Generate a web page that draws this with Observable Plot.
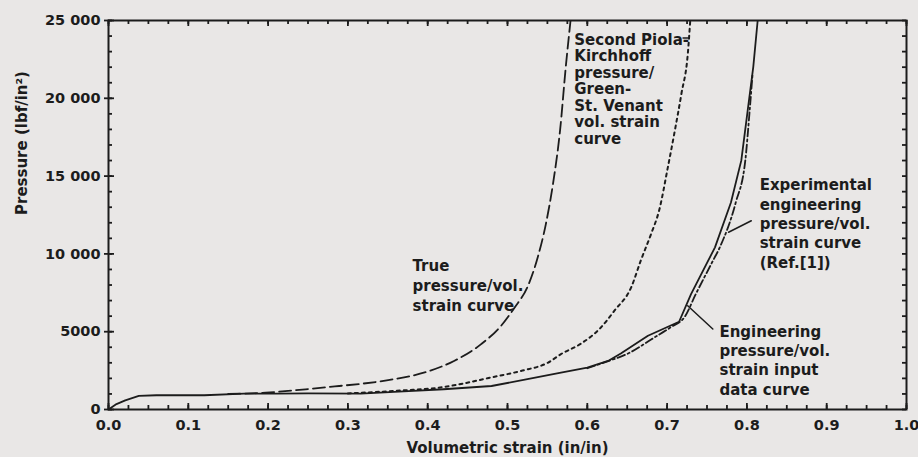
<!DOCTYPE html>
<html>
<head>
<meta charset="utf-8">
<script src="https://cdn.jsdelivr.net/npm/d3@7"></script>
<script src="https://cdn.jsdelivr.net/npm/@observablehq/plot@0.6"></script>
<style>
  html, body { margin: 0; padding: 0; background: #e9e7e6; }
  #chart { width: 918px; height: 457px; }
</style>
</head>
<body>
<div id="chart"></div>
<script>
// ---- data ----
const engStrain   = [0, 0.01, 0.021, 0.038, 0.06, 0.12, 0.17, 0.21, 0.25, 0.316, 0.37, 0.42, 0.48, 0.525, 0.567, 0.6, 0.626, 0.642, 0.676, 0.715, 0.73, 0.76, 0.78, 0.793, 0.801, 0.808, 0.8135];
const engPressure = [0, 350, 590, 870, 915, 915, 1020, 1020, 1030, 1020, 1160, 1300, 1510, 1950, 2370, 2690, 3120, 3600, 4740, 5640, 7420, 10420, 13300, 16010, 19230, 22020, 25000];

const expStrain   = [0.6, 0.62, 0.655, 0.68, 0.705, 0.722, 0.736, 0.756, 0.766, 0.786, 0.798, 0.8035, 0.807];
const expPressure = [2650, 3000, 3700, 4500, 5300, 5950, 7420, 9420, 10420, 13300, 16010, 19230, 21500];

const trueStrain   = [0.15, 0.197, 0.247, 0.289, 0.318, 0.358, 0.4, 0.433, 0.467, 0.492, 0.509, 0.525, 0.538, 0.548, 0.557, 0.566, 0.573, 0.579];
const truePressure = [1000, 1080, 1300, 1510, 1660, 1950, 2440, 3120, 4200, 5380, 6560, 7870, 9800, 11900, 14500, 18000, 22000, 25000];

const pkStrain   = [0.3, 0.37, 0.41, 0.44, 0.475, 0.517, 0.551, 0.567, 0.592, 0.617, 0.634, 0.655, 0.667, 0.68, 0.69, 0.701, 0.709, 0.718, 0.726, 0.729];
const pkPressure = [1030, 1230, 1380, 1620, 2010, 2480, 3020, 3560, 4230, 5270, 6350, 7850, 9570, 11290, 12790, 15580, 17730, 20310, 22890, 25000];

const xMajor = [0, 0.1, 0.2, 0.3, 0.4, 0.5, 0.6, 0.7, 0.8, 0.9, 1.0];
const xTickLabels = ["0.0", "0.1", "0.2", "0.3", "0.4", "0.5", "0.6", "0.7", "0.8", "0.9", "1.0"];
const xMinor = d3.range(0, 41).map(i => i / 40);
const yMajor = [0, 5000, 10000, 15000, 20000, 25000];
const yTickLabels = ["0", "5000", "10 000", "15 000", "20 000", "25 000"];
const yMinor = d3.range(0, 26).map(i => i * 1000);

const xTitle = "Volumetric strain (in/in)";
const yTitle = "Pressure (lbf/in²)";

const labels = [
  {x: 0.5837, y: 24210, text: "Second Piola-\nKirchhoff\npressure/\nGreen-\nSt. Venant\nvol. strain\ncurve", lh: 1.105},
  {x: 0.381, y: 9810, text: "True\npressure/vol.\nstrain curve", lh: 1.33},
  {x: 0.816, y: 14970, text: "Experimental\nengineering\npressure/vol.\nstrain curve\n(Ref.[1])", lh: 1.29},
  {x: 0.7656, y: 5560, text: "Engineering\npressure/vol.\nstrain input\ndata curve", lh: 1.29}
];
const leaderEng = [[0.7258, 6670], [0.7573, 5170]];
const leaderExp = [[0.777, 11390], [0.8055, 12130]];
const leaderPK  = [[0.720, 23870], [0.7275, 23870]];

const toPts = (xs, ys) => xs.map((x, i) => ({x, y: ys[i]}));
const ink = "#1c1c1c";

const W = 918, H = 457, ML = 108, MR = 12, MT = 20, MB = 48;
const innerW = W - ML - MR, innerH = H - MT - MB;
const yDomain = [0, 25000], xDomain = [0, 1];
// tick lengths (pixels) expressed in data units
const pxY = (yDomain[1] - yDomain[0]) / innerH;
const pxX = (xDomain[1] - xDomain[0]) / innerW;
const minorLen = 4, majorLen = 6, outLen = 4;

const chart = Plot.plot({
  width: W,
  height: H,
  marginLeft: ML,
  marginRight: MR,
  marginTop: MT,
  marginBottom: MB,
  style: {background: "#e9e7e6", color: ink, fontFamily: "DejaVu Sans", fontSize: "15px", fontWeight: "bold", overflow: "visible"},
  x: {domain: xDomain},
  y: {domain: yDomain},
  marks: [
    // inward ticks on all four sides, major y ticks also outward
    Plot.ruleX(xMinor, {x: d => d, y1: yDomain[0], y2: yDomain[0] + minorLen * pxY, stroke: ink, strokeWidth: 1.8}),
    Plot.ruleX(xMajor, {x: d => d, y1: yDomain[0], y2: yDomain[0] + majorLen * pxY, stroke: ink, strokeWidth: 1.8}),
    Plot.ruleX(xMinor, {x: d => d, y1: yDomain[1] - minorLen * pxY, y2: yDomain[1], stroke: ink, strokeWidth: 1.8}),
    Plot.ruleX(xMajor, {x: d => d, y1: yDomain[1] - majorLen * pxY, y2: yDomain[1], stroke: ink, strokeWidth: 1.8}),
    Plot.ruleY(yMinor, {y: d => d, x1: xDomain[0], x2: xDomain[0] + minorLen * pxX, stroke: ink, strokeWidth: 1.8}),
    Plot.ruleY(yMajor, {y: d => d, x1: xDomain[0] - outLen * pxX, x2: xDomain[0] + majorLen * pxX, stroke: ink, strokeWidth: 1.8}),
    Plot.ruleY(yMinor, {y: d => d, x1: xDomain[1] - minorLen * pxX, x2: xDomain[1], stroke: ink, strokeWidth: 1.8}),
    // tick labels
    Plot.axisX(xMajor, {anchor: "bottom", tickSize: 0, tickPadding: 10, fontSize: 14.5, tickFormat: d => xTickLabels[xMajor.indexOf(d)], label: null}),
    Plot.axisY(yMajor, {anchor: "left", tickSize: 0, tickPadding: 8, fontSize: 14.5, tickFormat: d => yTickLabels[yMajor.indexOf(d)], label: null}),
    Plot.frame({stroke: ink, strokeWidth: 2}),
    // curves
    Plot.line(toPts(engStrain, engPressure), {x: "x", y: "y", stroke: ink, strokeWidth: 1.8, clip: true}),
    Plot.line(toPts(expStrain, expPressure), {x: "x", y: "y", stroke: ink, strokeWidth: 1.8, strokeDasharray: "8,3,2,3", curve: "monotone-x", clip: true}),
    Plot.line(toPts(trueStrain, truePressure), {x: "x", y: "y", stroke: ink, strokeWidth: 1.8, strokeDasharray: "12,5", curve: "monotone-x", clip: true}),
    Plot.line(toPts(pkStrain, pkPressure), {x: "x", y: "y", stroke: ink, strokeWidth: 2, strokeDasharray: "3,4", curve: "monotone-x", clip: true}),
    // leaders
    Plot.line(leaderEng, {x: d => d[0], y: d => d[1], stroke: ink, strokeWidth: 1.5}),
    Plot.line(leaderExp, {x: d => d[0], y: d => d[1], stroke: ink, strokeWidth: 1.5}),
    Plot.line(leaderPK, {x: d => d[0], y: d => d[1], stroke: ink, strokeWidth: 1.5}),
    // annotation labels
    ...labels.map(l => Plot.text([l], {x: "x", y: "y", text: "text", textAnchor: "start", lineAnchor: "top", lineHeight: l.lh, fill: ink, fontSize: 15})),
    // axis titles
    Plot.text([xTitle], {frameAnchor: "bottom", dy: 39, lineAnchor: "middle", fill: ink, fontSize: 15}),
    Plot.text([yTitle], {frameAnchor: "left", dx: -86, rotate: -90, lineAnchor: "middle", fill: ink, fontSize: 15})
  ]
});
document.getElementById("chart").appendChild(chart);
</script>
</body>
</html>
